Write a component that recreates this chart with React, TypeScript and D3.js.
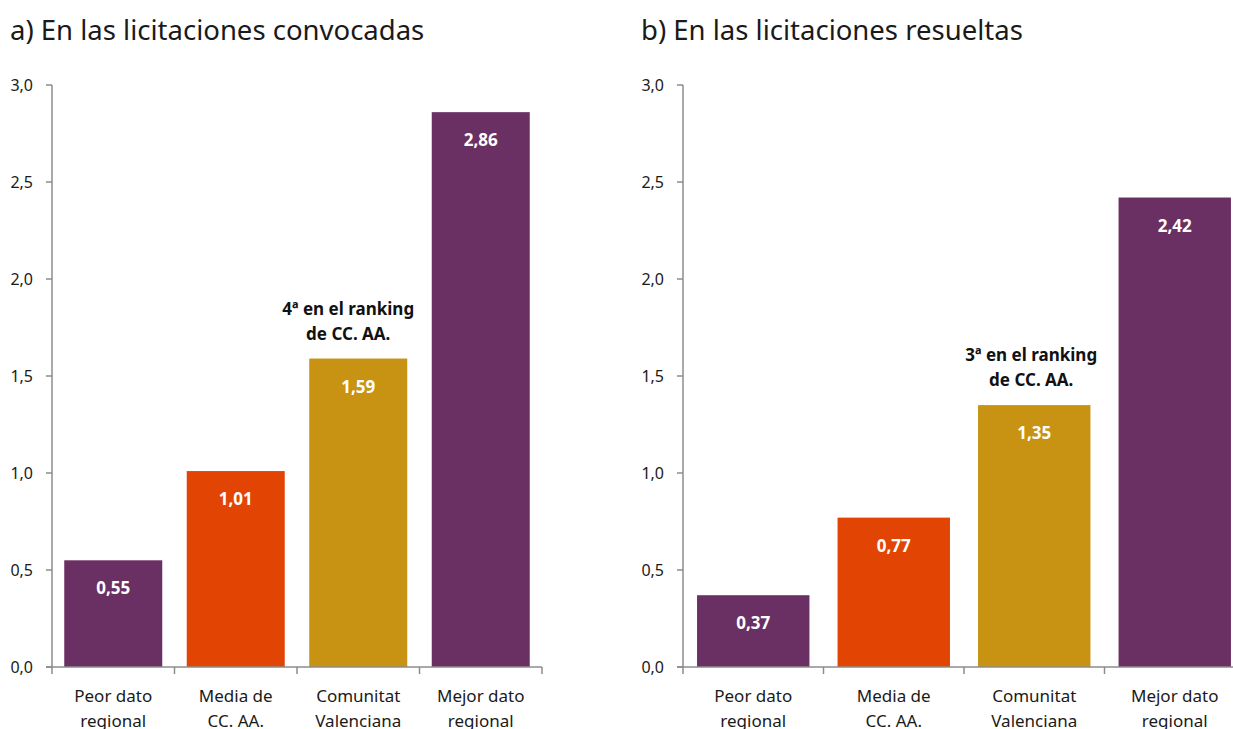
import React from "react";
import * as d3 from "d3";

const categories = [["Peor dato", "regional"], ["Media de", "CC. AA."], ["Comunitat", "Valenciana"], ["Mejor dato", "regional"]];
const convocadas = [0.55, 1.01, 1.59, 2.86];
const resueltas = [0.37, 0.77, 1.35, 2.42];
const yTicks = [0, 0.5, 1, 1.5, 2, 2.5, 3];
const barColors = ["#6A2F63", "#E24404", "#C89212", "#6A2F63"];
const titles = ["a) En las licitaciones convocadas", "b) En las licitaciones resueltas"];
const rankNotes = [["4ª en el ranking", "de CC. AA."], ["3ª en el ranking", "de CC. AA."]];
const rankIndex = 2;

const FONT = "'Noto Sans', 'Open Sans', sans-serif";
const fmt = (v: number, d: number) => v.toFixed(d).replace(".", ",");

type PanelProps = {
  values: number[];
  title: string;
  note: string[];
  x0: number;
  x1: number;
  titleX: number;
  noteDx: number;
};

function Panel({ values, title, note, x0, x1, titleX, noteDx }: PanelProps) {
  const y = d3.scaleLinear().domain([0, 3]).range([667, 85]);
  const x = d3
    .scaleBand<string>()
    .domain(categories.map((c) => c.join(" ")))
    .range([x0, x1])
    .paddingInner(0.2)
    .paddingOuter(0.1);
  const step = x.step();
  const axisColor = "#8C8C8C";
  return (
    <g>
      <text x={titleX} y={40} fontSize={27.5} fill="#1a1a1a" fontFamily={FONT}>
        {title}
      </text>
      {values.map((v, i) => {
        const key = categories[i].join(" ");
        const bx = x(key)!;
        const bw = x.bandwidth();
        const top = y(v);
        return (
          <g key={key}>
            <rect x={bx} y={top} width={bw} height={y(0) - top} fill={barColors[i]} />
            <text
              x={bx + bw / 2}
              y={top + 34}
              textAnchor="middle"
              fontSize={17}
              fontWeight="bold"
              fill="#ffffff"
              fontFamily={FONT}
            >
              {fmt(v, 2)}
            </text>
            {i === rankIndex &&
              note.map((line, j) => (
                <text
                  key={j}
                  x={bx + bw / 2 + noteDx}
                  y={top - 44 + j * 25}
                  textAnchor="middle"
                  fontSize={17}
                  fontWeight="bold"
                  fill="#111"
                  fontFamily={FONT}
                >
                  {line}
                </text>
              ))}
            {categories[i].map((line, j) => (
              <text
                key={j}
                x={bx + bw / 2}
                y={702 + j * 25}
                textAnchor="middle"
                fontSize={17}
                fill="#1a1a1a"
                fontFamily={FONT}
              >
                {line}
              </text>
            ))}
          </g>
        );
      })}
      {/* y axis */}
      <line x1={x0} x2={x0} y1={y(3)} y2={y(0)} stroke={axisColor} strokeWidth={1.5} />
      {yTicks.map((t) => (
        <g key={t}>
          <line x1={x0 - 6} x2={x0} y1={y(t)} y2={y(t)} stroke={axisColor} strokeWidth={1.5} />
          <text
            x={x0 - 19}
            y={y(t) + 6}
            textAnchor="end"
            fontSize={16}
            fill="#1a1a1a"
            fontFamily={FONT}
          >
            {fmt(t, 1)}
          </text>
        </g>
      ))}
      {/* x axis */}
      <line x1={x0 - 6} x2={x1} y1={y(0)} y2={y(0)} stroke={axisColor} strokeWidth={1.5} />
      {d3.range(categories.length + 1).map((k) => (
        <line
          key={k}
          x1={x0 + k * step}
          x2={x0 + k * step}
          y1={y(0)}
          y2={y(0) + 7}
          stroke={axisColor}
          strokeWidth={1.5}
        />
      ))}
    </g>
  );
}

export default function App() {
  return (
    <svg
      width={1233}
      height={729}
      style={{ position: "fixed", left: 0, top: 0, background: "#fff" }}
    >
      <rect width={1233} height={729} fill="#fff" />
      <Panel values={convocadas} title={titles[0]} note={rankNotes[0]} x0={52} x1={542} titleX={10} noteDx={-10} />
      <Panel values={resueltas} title={titles[1]} note={rankNotes[1]} x0={683} x1={1245} titleX={641} noteDx={-3} />
    </svg>
  );
}
